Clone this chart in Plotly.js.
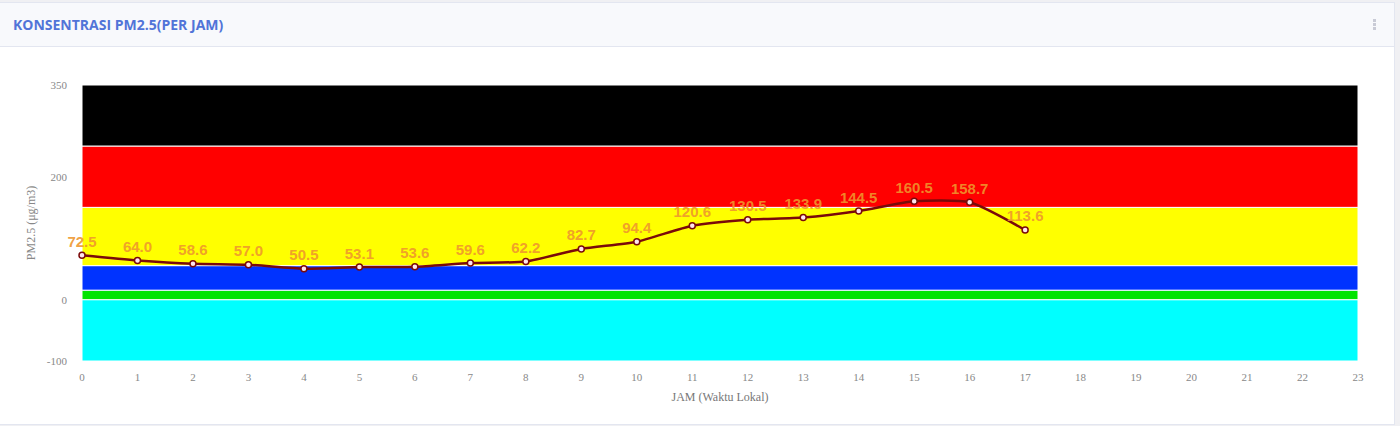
<!DOCTYPE html>
<html>
<head>
<meta charset="utf-8">
<script src="https://cdn.plot.ly/plotly-3.0.1.min.js"></script>
<style>
  body { margin: 0; background: #f0f0f3; font-family: "Open Sans", sans-serif; }
  .card { position: absolute; left: 0; top: 2px; width: 1394px; height: 421px; background: #fff; border: 1px solid #e3e6f0; border-left: none; }
  .card-header { height: 43px; background: #f8f9fc; border-bottom: 1px solid #e3e6f0; position: relative; }
  .card-header h6 { margin: 0; position: absolute; left: 13px; top: 12px; font-size: 14px; font-weight: 700; color: #5174d8; }
  .dots { position: absolute; right: 18px; top: 16px; width: 3px; }
  .dots span { display: block; width: 3px; height: 3px; background: #c9cbd6; margin-bottom: 1px; }
  #chart { position: absolute; left: 0; top: 44px; width: 1394px; height: 376px; }
</style>
</head>
<body>
<div class="card">
  <div class="card-header">
    <h6>KONSENTRASI PM2.5(PER JAM)</h6>
    <div class="dots"><span></span><span></span><span></span></div>
  </div>
  <div id="chart"></div>
</div>
<script>
var jam = [0, 1, 2, 3, 4, 5, 6, 7, 8, 9, 10, 11, 12, 13, 14, 15, 16, 17];
var pm25 = [72.5, 64.0, 58.6, 57.0, 50.5, 53.1, 53.6, 59.6, 62.2, 82.7, 94.4, 120.6, 130.5, 133.9, 144.5, 160.5, 158.7, 113.6];

// batas kategori
var bandBawah = [-100, 0, 15.5, 55.5, 150.5, 250.5];
var bandAtas = [0, 15.5, 55.5, 150.5, 250.5, 350];
var bandWarna = ['#00ffff', '#00e400', '#0033ff', '#ffff00', '#ff0000', '#000000'];

var yTicks = [-100, 0, 200, 350];
var yTickText = ['-100', '0', '200', '350'];

var shapes = [];
bandBawah.forEach(function (b, i) {
  shapes.push({
    type: 'rect', xref: 'paper', yref: 'y', x0: 0, x1: 1,
    y0: b, y1: bandAtas[i], fillcolor: bandWarna[i],
    line: { color: '#ffffff', width: 1 }, layer: 'below'
  });
});

var trace = {
  x: jam,
  y: pm25,
  text: pm25.map(function (v) { return v.toFixed(1); }),
  mode: 'lines+markers+text',
  textposition: 'top center',
  textfont: { family: 'Liberation Sans, Arial', size: 15, color: 'rgba(238,150,45,0.9)', weight: 'bold' },
  line: { color: '#7a0a0a', width: 2.5, shape: 'spline', smoothing: 0.6 },
  marker: { size: 6, color: '#ffe6ee', line: { color: '#7a0a0a', width: 1.5 } },
  cliponaxis: false,
  hoverinfo: 'x+y'
};

var layout = {
  margin: { l: 82, r: 36, t: 38, b: 62 },
  paper_bgcolor: '#ffffff',
  plot_bgcolor: '#ffffff',
  showlegend: false,
  shapes: shapes,
  font: { family: 'Liberation Serif, serif', size: 11, color: '#888' },
  xaxis: {
    range: [0, 23], tickmode: 'linear', tick0: 0, dtick: 1,
    showgrid: false, zeroline: false, showline: false,
    ticklabelstandoff: 8,
    title: { text: 'JAM (Waktu Lokal)', font: { size: 12, color: '#777' }, standoff: 10 }
  },
  yaxis: {
    range: [-100, 350], tickmode: 'array', tickvals: yTicks, ticktext: yTickText,
    showgrid: false, zeroline: false, showline: false,
    ticklabelstandoff: 14,
    title: { text: 'PM2.5 (μg/m3)', font: { size: 12, color: '#888' }, standoff: 8 }
  }
};

Plotly.newPlot('chart', [trace], layout, { displayModeBar: false, staticPlot: true });
</script>
</body>
</html>
